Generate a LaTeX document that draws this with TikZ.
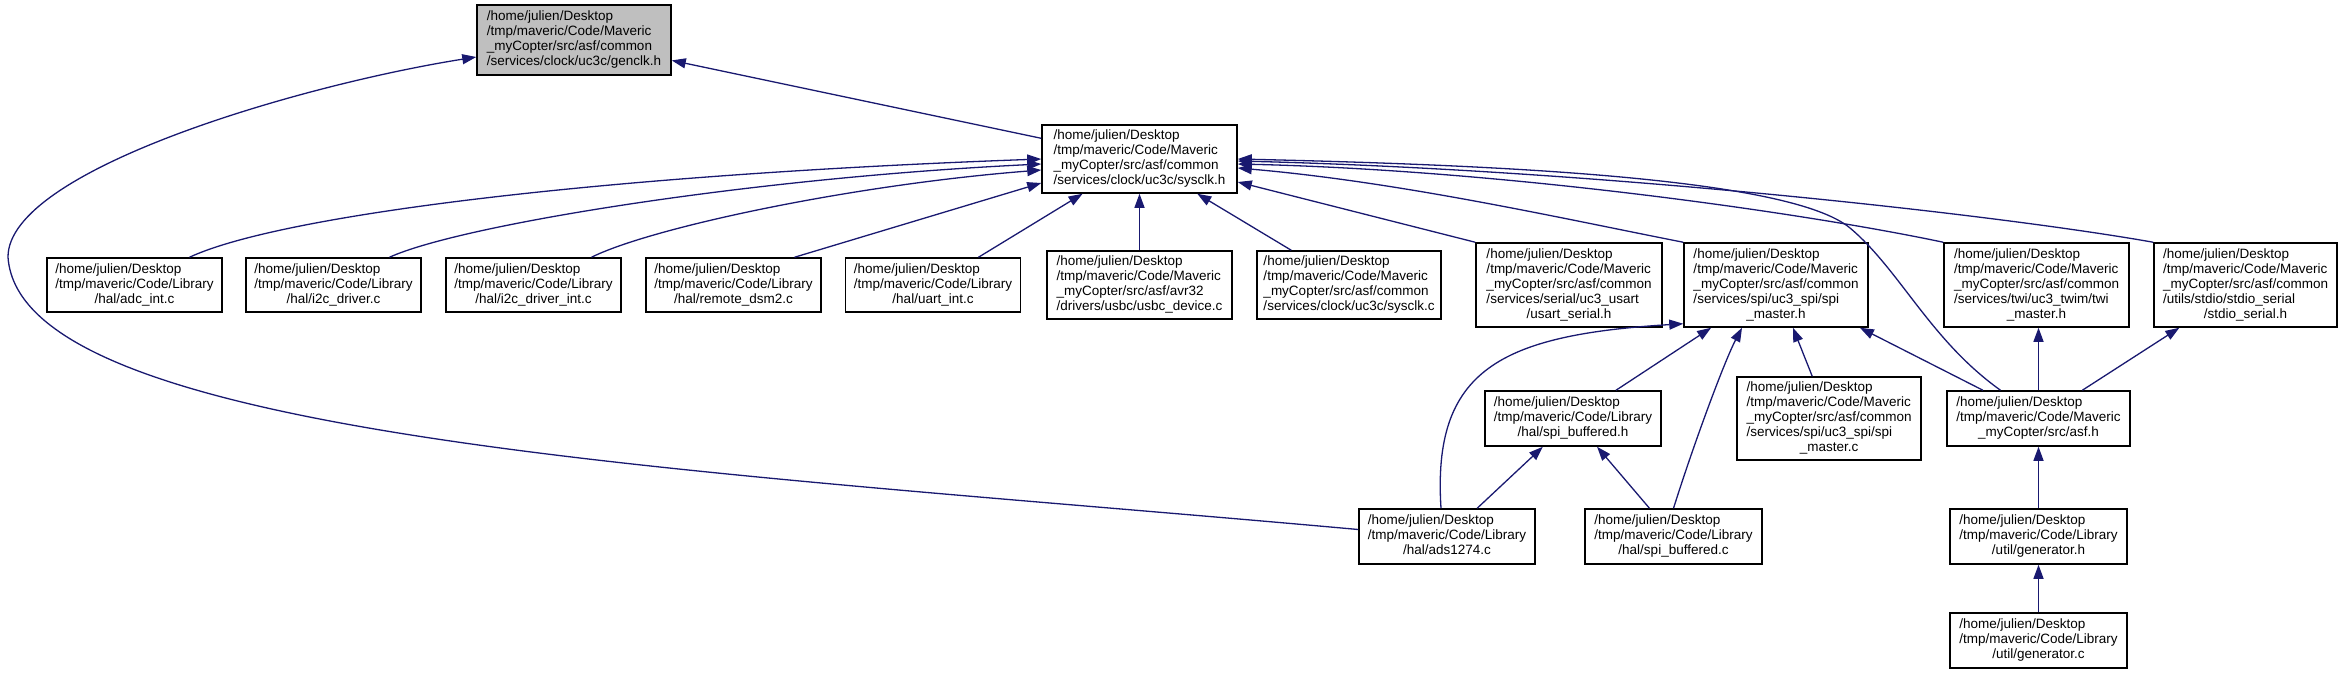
\documentclass[tikz,border=0pt]{standalone}
\usepackage{fontspec}
\setmainfont{Liberation Sans}
\usetikzlibrary{arrows.meta}
\definecolor{edgeblue}{HTML}{191970}
\definecolor{rootgray}{HTML}{BFBFBF}
% all lines left, the last one centred
\newcommand{\fpath}[2]{\begin{tabular}{@{}l@{}}#1\\\multicolumn{1}{@{}c@{}}{#2}\end{tabular}}

\begin{document}
\begin{tikzpicture}[
    x=1pt, y=-1pt,
    file/.style={rectangle, draw=black, line width=1.5pt, fill=white, inner sep=0pt, font=\fontsize{13.5}{15}\selectfont},
    root/.style={file, fill=rootgray, minimum width=194pt, minimum height=70pt},
    three/.style={file, minimum width=175pt, minimum height=54pt},
    four/.style={file, minimum width=185pt, minimum height=68pt},
    five/.style={file, minimum width=184pt, minimum height=84pt},
    dep/.style={draw=edgeblue, line width=1.3pt, -{Triangle[length=14pt,width=10pt]}}
]
\useasboundingbox (0,0) rectangle (2339,675);

% Root
\node[root] (genclk) at (574,40) {\fpath{/home/julien/Desktop\\/tmp/maveric/Code/Maveric\\\_myCopter/src/asf/common}{/services/clock/uc3c/genclk.h}};

% Level 1
\node[four, minimum width=195pt] (sysclk) at (1139.5,159) {\fpath{/home/julien/Desktop\\/tmp/maveric/Code/Maveric\\\_myCopter/src/asf/common}{/services/clock/uc3c/sysclk.h}};

% Level 2
\node[three] (adc) at (134.5,285) {\fpath{/home/julien/Desktop\\/tmp/maveric/Code/Library}{/hal/adc\_int.c}};
\node[three] (i2cdrv) at (333.5,285) {\fpath{/home/julien/Desktop\\/tmp/maveric/Code/Library}{/hal/i2c\_driver.c}};
\node[three] (i2cint) at (533.5,285) {\fpath{/home/julien/Desktop\\/tmp/maveric/Code/Library}{/hal/i2c\_driver\_int.c}};
\node[three] (dsm2) at (733.5,285) {\fpath{/home/julien/Desktop\\/tmp/maveric/Code/Library}{/hal/remote\_dsm2.c}};
\node[three] (uart) at (933,285) {\fpath{/home/julien/Desktop\\/tmp/maveric/Code/Library}{/hal/uart\_int.c}};
\node[four] (usbc) at (1139.5,285) {\fpath{/home/julien/Desktop\\/tmp/maveric/Code/Maveric\\\_myCopter/src/asf/avr32}{/drivers/usbc/usbc\_device.c}};
\node[four, minimum width=184pt] (sysclkc) at (1349,285) {\fpath{/home/julien/Desktop\\/tmp/maveric/Code/Maveric\\\_myCopter/src/asf/common}{/services/clock/uc3c/sysclk.c}};
\node[five, minimum width=186pt] (usart) at (1569,285) {\fpath{/home/julien/Desktop\\/tmp/maveric/Code/Maveric\\\_myCopter/src/asf/common\\/services/serial/uc3\_usart}{/usart\_serial.h}};
\node[five] (spim) at (1776,285) {\fpath{/home/julien/Desktop\\/tmp/maveric/Code/Maveric\\\_myCopter/src/asf/common\\/services/spi/uc3\_spi/spi}{\_master.h}};
\node[five, minimum width=185pt] (twi) at (2036.5,285) {\fpath{/home/julien/Desktop\\/tmp/maveric/Code/Maveric\\\_myCopter/src/asf/common\\/services/twi/uc3\_twim/twi}{\_master.h}};
\node[five, minimum width=183pt] (stdio) at (2245.5,285) {\fpath{/home/julien/Desktop\\/tmp/maveric/Code/Maveric\\\_myCopter/src/asf/common\\/utils/stdio/stdio\_serial}{/stdio\_serial.h}};

% Level 3
\node[three, minimum width=176pt, minimum height=55pt] (spibh) at (1573,418.5) {\fpath{/home/julien/Desktop\\/tmp/maveric/Code/Library}{/hal/spi\_buffered.h}};
\node[five, minimum height=83pt] (spimc) at (1829,418.5) {\fpath{/home/julien/Desktop\\/tmp/maveric/Code/Maveric\\\_myCopter/src/asf/common\\/services/spi/uc3\_spi/spi}{\_master.c}};
\node[three, minimum width=183pt, minimum height=55pt] (asf) at (2038.5,418.5) {\fpath{/home/julien/Desktop\\/tmp/maveric/Code/Maveric}{\_myCopter/src/asf.h}};

% Level 4 and 5
\node[three, minimum width=176pt, minimum height=55pt] (ads) at (1447,536.5) {\fpath{/home/julien/Desktop\\/tmp/maveric/Code/Library}{/hal/ads1274.c}};
\node[three, minimum width=177pt, minimum height=55pt] (spibc) at (1673.5,536.5) {\fpath{/home/julien/Desktop\\/tmp/maveric/Code/Library}{/hal/spi\_buffered.c}};
\node[three, minimum width=177pt, minimum height=55pt] (genh) at (2038.5,536.5) {\fpath{/home/julien/Desktop\\/tmp/maveric/Code/Library}{/util/generator.h}};
\node[three, minimum width=177pt, minimum height=55pt] (genc) at (2038.5,640.5) {\fpath{/home/julien/Desktop\\/tmp/maveric/Code/Library}{/util/generator.c}};

% Edges into genclk.h
\draw[dep] (sysclk) -- (genclk);
\draw[dep] ([yshift=7pt]ads.west) .. controls (700,470) and (20,440) .. (8,257)
    .. controls (8,170) and (300,85) .. ([yshift=-17pt]genclk.west);

% Edges into sysclk.h
\draw[dep] ([xshift=55pt]adc.north) .. controls (280,215) and (600,175) .. (sysclk.west);
\draw[dep] ([xshift=56pt]i2cdrv.north) .. controls (460,225) and (750,178) .. ([yshift=-5pt]sysclk.west);
\draw[dep] ([xshift=58pt]i2cint.north) .. controls (650,228) and (850,185) .. ([yshift=-11pt]sysclk.west);
\draw[dep] ([xshift=61pt]dsm2.north) -- ([yshift=-24pt]sysclk.west);
\draw[dep] (uart) -- (sysclk);
\draw[dep] (usbc) -- (sysclk);
\draw[dep] (sysclkc) -- (sysclk);
\draw[dep] (usart.north west) -- ([yshift=-23pt]sysclk.east);
\draw[dep] (spim.north west) .. controls (1560,218) and (1400,182) .. ([yshift=-9pt]sysclk.east);
\draw[dep] (twi.north west) .. controls (1800,212) and (1500,170) .. ([yshift=-5pt]sysclk.east);
\draw[dep] (stdio.north west) .. controls (2000,215) and (1600,170) .. ([yshift=-2pt]sysclk.east);
\draw[dep] ([xshift=-38pt]asf.north) .. controls (1930,340) and (1900,270) .. (1850,228)
    .. controls (1790,178) and (1500,165) .. (sysclk.east);

% Edges into spi_master.h
\draw[dep] (spibh) -- (spim);
\draw[dep] (spimc) -- (spim);
\draw[dep] (asf) -- (spim);
\draw[dep] ([xshift=-6pt]ads.north) .. controls (1432,370) and (1500,335) .. ([yshift=4pt]spim.south west);
\draw[dep] (spibc.north) .. controls (1695,440) and (1725,360) .. ([xshift=-34pt]spim.south);

% Edges into spi_buffered.h
\draw[dep] (ads) -- (spibh);
\draw[dep] (spibc) -- (spibh);

% Edges around asf.h
\draw[dep] (asf.north) -- (asf.north |- twi.south);
\draw[dep] (asf) -- (stdio);
\draw[dep] (genh) -- (asf);
\draw[dep] (genc) -- (genh);

\end{tikzpicture}
\end{document}
